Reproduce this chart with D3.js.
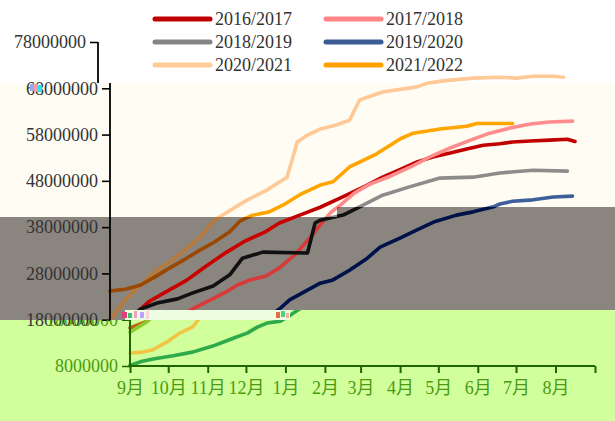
<!DOCTYPE html>
<html><head><meta charset="utf-8">
<script src="https://cdn.jsdelivr.net/npm/d3@7"></script>
<style>body{margin:0;background:#fff}svg{display:block}</style>
</head><body><svg id="c" width="615" height="421"></svg>
<script>
// ---- data: [days since 1 Sep, stock in millions] ----
const seriesNames = ["2016/2017","2017/2018","2018/2019","2019/2020","2020/2021","2021/2022"];
const s2016 = [[0,16.2],[13,17.6],[24,20.3],[31,22.0],[47,24.5],[60,26.5],[75,29.5],[91,32.5],[106,35.0],[122,37.0],[133,38.9],[149,40.6],[165,42.3],[181,44.3],[200,46.8],[214,48.8],[228,50.5],[241,52.1],[254,53.2],[267,54.0],[280,54.9],[293,55.7],[306,56.0],[316,56.4],[330,56.6],[345,56.8],[359,57.0],[365,56.5]];
const s2017 = [[0,10.8],[10,11.0],[18,11.5],[29,13.2],[39,15.1],[49,16.4],[55,18.4],[62,19.9],[71,21.2],[82,22.7],[91,24.0],[100,25.5],[110,26.6],[122,27.4],[133,29.2],[145,32.0],[157,35.7],[165,38.5],[173,41.1],[181,42.8],[192,45.4],[204,47.3],[220,49.0],[236,51.0],[251,53.2],[267,55.1],[283,56.8],[298,58.3],[314,59.4],[330,60.3],[345,60.7],[363,60.9]];
const s2018 = [[0,15.3],[13,17.5],[24,20.3],[37,21.6],[53,22.5],[65,23.8],[81,25.3],[94,27.7],[104,31.3],[120,32.6],[155,32.4],[161,38.9],[165,39.5],[183,40.6],[194,42.1],[214,44.9],[235,46.7],[259,48.6],[285,48.8],[306,49.7],[332,50.3],[359,50.1]];
const s2019 = [[0,8.1],[8,8.9],[18,9.5],[34,10.2],[49,11.0],[65,12.3],[81,14.0],[92,15.1],[100,16.4],[108,17.3],[118,17.7],[126,19.0],[133,20.3],[141,22.3],[155,24.4],[165,25.9],[175,26.6],[188,28.7],[202,31.3],[212,33.7],[228,35.7],[241,37.4],[254,39.1],[272,40.6],[285,41.3],[301,42.4],[306,43.0],[316,43.6],[332,43.9],[348,44.5],[363,44.7]];
const s2020 = [[0,18.0],[12,22.3],[24,25.5],[35,28.3],[47,30.5],[59,33.1],[71,35.9],[82,39.5],[97,42.1],[108,43.9],[123,46.0],[139,48.8],[147,56.4],[155,57.9],[165,59.2],[177,60.0],[188,61.1],[196,65.5],[214,67.2],[241,68.3],[249,69.1],[261,69.6],[285,70.2],[306,70.4],[319,70.2],[332,70.6],[348,70.6],[356,70.4]];
const s2021 = [[0,24.2],[12,24.6],[24,25.5],[35,27.2],[47,29.2],[59,31.1],[71,33.1],[82,34.8],[94,37.0],[102,39.3],[111,40.5],[125,41.3],[136,42.8],[149,45.0],[165,47.1],[175,47.8],[188,51.0],[209,53.8],[228,57.1],[238,58.3],[259,59.2],[280,59.8],[288,60.4],[316,60.4]];
const allSeries = [s2016, s2017, s2018, s2019, s2020, s2021];
const monthLabels = ["9月","10月","11月","12月","1月","2月","3月","4月","5月","6月","7月","8月"];
const yTickValues = [8e6,18e6,28e6,38e6,48e6,58e6,68e6,78e6];

// ---- styles ----
const legendColors = ["#c00000","#ff8585","#858585","#3b5b95","#ffcc99","#ffa000"];
const creamColors  = ["#c00000","#ff8c8c","#8c8c8c","#3d5f9a","#ffc897","#ffa500"];
const grayColors   = ["#c80000","#d83a3a","#111111","#00124a","#b87a3a","#9a4800"];
const greenColors  = ["#c06010","#f2c443","#8ccc30","#2eaa4a","#f0d070","#c08000"];

const svg = d3.select("#c");
const W = 615, H = 421;
const start = new Date(2000, 8, 1), end = new Date(2001, 8, 1);
const x = d3.scaleTime().domain([start, end]).range([110, 575]);
const y = d3.scaleLinear().domain([8e6, 78e6]).range([366, 42]);
const toDate = d => d3.timeDay.offset(start, d);
const line = d3.line().x(p => x(toDate(p[0]))).y(p => y(p[1] * 1e6));

// ---- regions ----
const regions = {
  upper: [[0,0],[W,0],[W,207],[337,207],[337,217],[0,217]],
  cream: [[0,83],[W,83],[W,207],[337,207],[337,217],[0,217]],
  gray:  [[0,217],[337,217],[337,207],[W,207],[W,310],[125,310],[125,320],[0,320]],
  green: [[0,320],[290,320],[290,310],[W,310],[W,H],[0,H]]
};
const defs = svg.append("defs");
Object.entries(regions).forEach(([k, pts]) => {
  defs.append("clipPath").attr("id", "clip-" + k)
    .append("polygon").attr("points", pts.map(p => p.join(",")).join(" "));
});

svg.append("rect").attr("width", W).attr("height", H).attr("fill", "#fff");
svg.append("polygon").attr("points", regions.cream.map(p => p.join(",")).join(" ")).attr("fill", "#fffdf3");
svg.append("polygon").attr("points", regions.gray.map(p => p.join(",")).join(" ")).attr("fill", "#8a857f");
svg.append("polygon").attr("points", regions.green.map(p => p.join(",")).join(" ")).attr("fill", "#d0ff9b");
// glitch strip
svg.append("rect").attr("x", 125).attr("y", 310).attr("width", 165).attr("height", 10).attr("fill", "#ecfde0");

function drawLines(clip, colors, dx) {
  const g = svg.append("g").attr("clip-path", `url(#clip-${clip})`)
    .append("g").attr("transform", `translate(${dx},0)`);
  allSeries.forEach((s, i) => {
    g.append("path").attr("d", line(s)).attr("fill", "none")
      .attr("stroke", colors[i]).attr("stroke-width", 3.6)
      .attr("stroke-linejoin", "round").attr("stroke-linecap", "round");
  });
}
drawLines("upper", creamColors, 0);
drawLines("gray", grayColors, 0);
drawLines("green", greenColors, 20);

const font = "'Liberation Serif','Times New Roman','Noto Sans CJK SC',serif";

// ---- main y axis (cream/gray panel) ----
const mainAxis = svg.append("g").attr("clip-path", "url(#clip-upper)");
const gAxisWrap = svg.append("g");
function yAxisGroup(parent, tx, ticks, color, textColor) {
  const g = parent.append("g").attr("transform", `translate(${tx},0)`)
    .call(d3.axisLeft(y).tickValues(ticks).tickSize(8).tickPadding(4).tickFormat(d3.format("d")));
  g.select(".domain").remove();
  g.selectAll(".tick line").attr("stroke", color).attr("stroke-width", 1.6);
  g.selectAll(".tick text").attr("fill", textColor).style("font-family", font).style("font-size", "18px");
  return g;
}
// main axis: x=110, from y=83 to 320
const ga = svg.append("g");
ga.append("line").attr("x1", 110).attr("x2", 110).attr("y1", 83).attr("y2", 320).attr("stroke", "#000").attr("stroke-width", 1.8);
yAxisGroup(ga, 110, [18e6,28e6,38e6,48e6,58e6,68e6], "#000", "#333");
// top segment axis, x=98
const gt = svg.append("g");
gt.append("line").attr("x1", 98).attr("x2", 98).attr("y1", y(78e6)).attr("y2", 83).attr("stroke", "#000").attr("stroke-width", 1.8);
yAxisGroup(gt, 98, [78e6], "#000", "#333");

// ---- green panel axes (shifted +20) ----
const gg = svg.append("g").attr("clip-path", "url(#clip-green)");
gg.append("rect").attr("x", 0).attr("y", 300).attr("width", 125).attr("height", 25).attr("fill", "none");
const gy = gg.append("g");
gy.append("line").attr("x1", 130).attr("x2", 130).attr("y1", 318).attr("y2", 367).attr("stroke", "#1e6400").attr("stroke-width", 2);
yAxisGroup(gy, 130, [8e6, 18e6], "#1e6400", "#4c9a14");
const monthTicks = d3.timeMonth.range(start, d3.timeDay.offset(end, 1));
const gx = gg.append("g").attr("transform", `translate(20,${y(8e6)})`)
  .call(d3.axisBottom(x).tickValues(monthTicks).tickSize(7).tickPadding(8)
    .tickFormat((d, i) => i < monthLabels.length ? monthLabels[i] : ""));
gx.select(".domain").attr("stroke", "#1e6400").attr("stroke-width", 2.2).attr("d", `M${x(start)},0H${x(end)}`);
gx.selectAll(".tick line").attr("stroke", "#1e6400").attr("stroke-width", 2);
gx.selectAll(".tick text").attr("fill", "#4c9a14").style("font-family", font).style("font-size", "18px");

// ---- legend ----
const legend = svg.append("g");
seriesNames.forEach((name, i) => {
  const col = i % 2, row = Math.floor(i / 2);
  const lx = col === 0 ? 155 : 326, ly = 19 + row * 23;
  legend.append("line").attr("x1", lx).attr("x2", lx + 55).attr("y1", ly).attr("y2", ly)
    .attr("stroke", legendColors[i]).attr("stroke-width", 5).attr("stroke-linecap", "round");
  legend.append("text").attr("x", lx + 60).attr("y", ly + 6).text(name)
    .attr("fill", "#333").style("font-family", font).style("font-size", "18px");
});

// ---- glitch speckles ----
const speck = [[30,84,4,7,"#9ad"],[34,84,4,8,"#f59ab0"],[38,85,4,7,"#2ee0e0"],
  [122,312,5,6,"#e0407a"],[128,313,4,5,"#40c070"],[134,311,3,7,"#f0a0c0"],[140,312,4,6,"#c0a0ff"],[146,311,3,8,"#ffd0e0"],
  [276,312,4,6,"#e07040"],[281,311,4,6,"#50d080"],[286,313,3,5,"#f8b0a0"]];
svg.append("g").selectAll("rect").data(speck).join("rect")
  .attr("x", d => d[0]).attr("y", d => d[1]).attr("width", d => d[2]).attr("height", d => d[3]).attr("fill", d => d[4]);
</script>
</body></html>
